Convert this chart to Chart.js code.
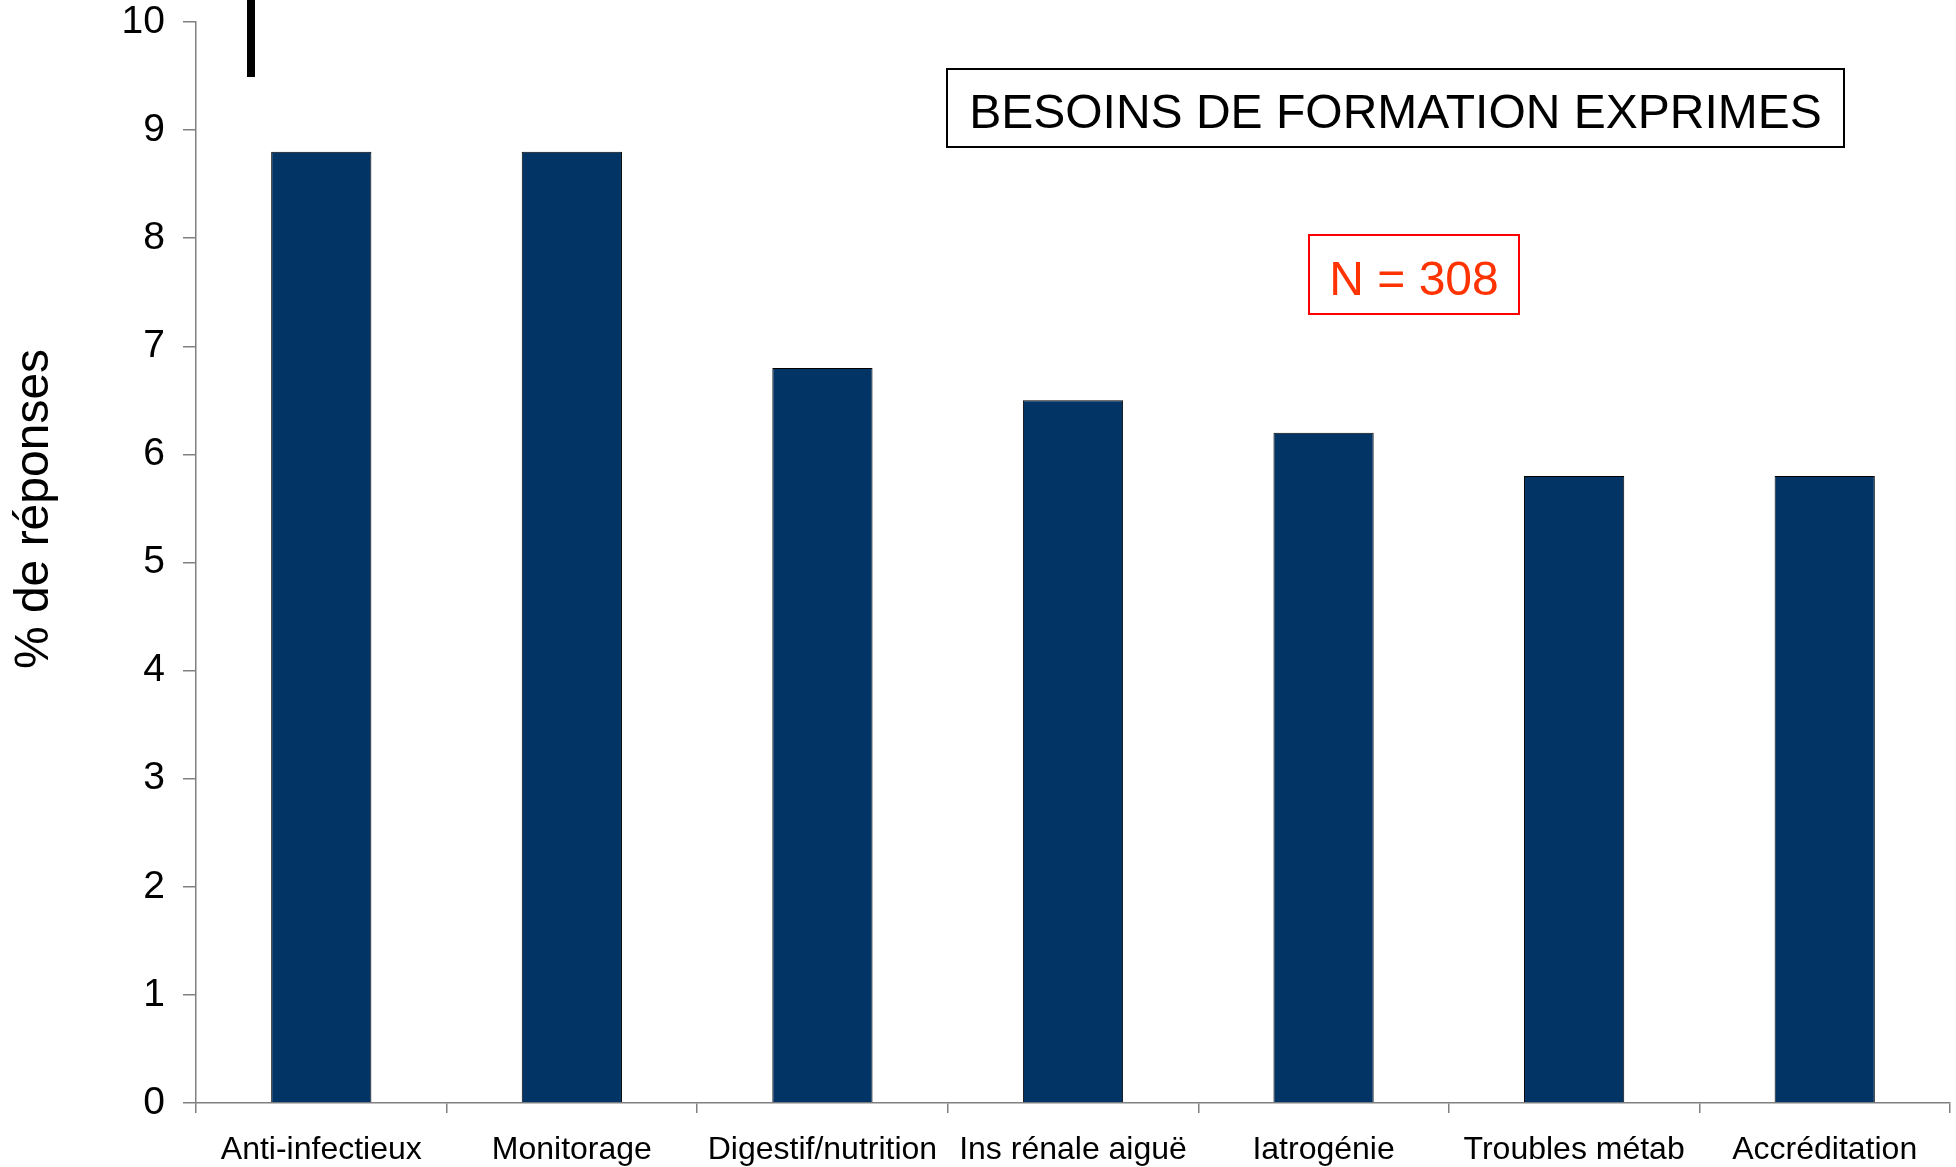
<!DOCTYPE html>
<html>
<head>
<meta charset="utf-8">
<script src="https://cdn.jsdelivr.net/npm/chart.js@4.4.1/dist/chart.umd.min.js"></script>
<style>
html, body { margin: 0; padding: 0; background: #fff; }
#wrap { width: 1956px; height: 1167px; position: relative; }
</style>
</head>
<body>
<div id="wrap"><canvas id="besoinsChart"></canvas></div>
<script>
var categories = ["Anti-infectieux", "Monitorage", "Digestif/nutrition", "Ins rénale aiguë", "Iatrogénie", "Troubles métab", "Accréditation"];
var pourcentages = [8.8, 8.8, 6.8, 6.5, 6.2, 5.8, 5.8];
var yMin = 0, yMax = 10, yStep = 1;
var titre = "BESOINS DE FORMATION EXPRIMES";
var effectif = "N = 308";
var titreAxeY = "% de réponses";

var police = "'Liberation Sans', Arial, sans-serif";

// boxes and y title drawn on top of the chart
var encadres = {
	id: "encadres",
	afterDraw: function(chart) {
		var ctx = chart.ctx;
		ctx.save();
		// stray black stroke near the top of the axis
		ctx.fillStyle = "#000";
		ctx.fillRect(247, 0, 8, 77);

		ctx.lineWidth = 2;
		ctx.strokeStyle = "#000";
		ctx.strokeRect(947, 69, 897, 78);
		ctx.font = "48px " + police;
		ctx.fillStyle = "#000";
		ctx.textAlign = "center";
		ctx.textBaseline = "alphabetic";
		ctx.fillText(titre, 1395.5, 128);

		ctx.strokeStyle = "#ff0000";
		ctx.strokeRect(1309, 235, 210, 79);
		ctx.fillStyle = "#ff3300";
		ctx.fillText(effectif, 1414, 295);

		// y axis title, sits a bit above the middle like the original
		ctx.translate(35, 509);
		ctx.rotate(-Math.PI / 2);
		ctx.fillStyle = "#000";
		ctx.font = "48px " + police;
		ctx.textBaseline = "middle";
		ctx.fillText(titreAxeY, 0, 0);
		ctx.restore();
	}
};

window.chart = new Chart("besoinsChart", {
	type: "bar",
	data: {
		labels: categories,
		datasets: [{
			data: pourcentages,
			backgroundColor: "#033466",
			borderColor: "#000",
			borderWidth: 1,
			barPercentage: 0.4,
			categoryPercentage: 1.0
		}]
	},
	options: {
		responsive: true,
		maintainAspectRatio: false,
		animation: false,
		layout: {padding: {top: 22, right: 6, left: 0, bottom: 0}},
		plugins: {legend: {display: false}, tooltip: {enabled: false}},
		scales: {
			x: {
				afterFit: function(s) { s.height = 64; s.paddingLeft = 0; s.paddingRight = 0; },
				grid: {display: true, drawOnChartArea: false, drawTicks: true, tickLength: 10, color: "#808080", lineWidth: 1.5},
				border: {color: "#808080", width: 1.5},
				ticks: {color: "#000", font: {family: police, size: 32}, padding: 18, maxRotation: 0, autoSkip: false}
			},
			y: {
				min: yMin, max: yMax,
				afterFit: function(s) { s.width = 196; s.paddingTop = 0; s.paddingBottom = 0; },
				grid: {display: true, drawOnChartArea: false, drawTicks: true, tickLength: 13, color: "#808080", lineWidth: 1.5},
				border: {color: "#808080", width: 1.5},
				ticks: {stepSize: yStep, color: "#000", font: {family: police, size: 39}, padding: 18}
			}
		}
	},
	plugins: [encadres]
});
</script>
</body>
</html>
